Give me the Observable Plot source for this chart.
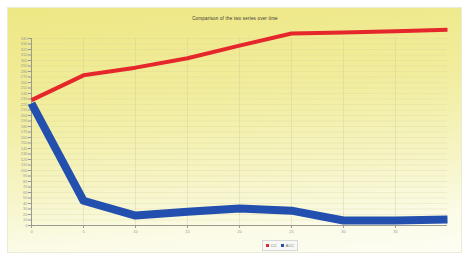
<!DOCTYPE html>
<html>
<head>
<meta charset="utf-8">
<script src="https://cdn.jsdelivr.net/npm/d3@7"></script>
<script src="https://cdn.jsdelivr.net/npm/@observablehq/plot@0.6"></script>
<style>
  html, body { margin: 0; padding: 0; background: #ffffff; }
  #wrap { position: relative; width: 470px; height: 257px; overflow: hidden; }
  #bg { position: absolute; left: 7px; top: 7px; width: 455px; height: 246px;
        background: linear-gradient(175deg, #eee784 0%, #f1ed9c 35%, #f6f4c4 65%, #fbfbe6 85%, #fdfdf4 100%);
        border: 1px solid #ecebd8; box-sizing: border-box; }
  #chart { position: absolute; left: 0; top: 0; }
  #title { position: absolute; left: 0; width: 470px; top: 16px; text-align: center;
           font: 4.5px "Liberation Sans", sans-serif; color: #333; letter-spacing: 0.2px; }
  #legend { position: absolute; left: 262px; top: 240px; height: 9px; padding: 0 3px;
            border: 1px solid #d8d8d8; background: #f8f8f4; display: flex; align-items: center; gap: 4px;
            font: 4px "Liberation Sans", sans-serif; color: #777; }
  .sw { display: inline-block; width: 3px; height: 3px; margin-right: 2px; vertical-align: middle; }
</style>
</head>
<body>
<div id="wrap">
  <div id="bg"></div>
  <div id="chart"></div>
  <div id="title">Comparison of the two series over time</div>
  <div id="legend"></div>
</div>
<script>
const xValues = [0, 5, 10, 15, 20, 25, 30, 35, 40];
const redValues = [228, 273, 287, 304, 327, 349, 351, 353, 356];
const blueValues = [222, 45, 18, 25, 31, 27, 9, 9, 11];
const seriesNames = ["CC", "ACC"];
const seriesColors = ["#e5262b", "#2350ae"];
const xTicks = [0, 5, 10, 15, 20, 25, 30, 35];
const yTicks = [0, 10, 20, 30, 40, 50, 60, 70, 80, 90, 100, 110, 120, 130, 140, 150, 160, 170,
                180, 190, 200, 210, 220, 230, 240, 250, 260, 270, 280, 290, 300, 310, 320, 330, 340];

const rows = xValues.map((x, i) => ({x, y: redValues[i], s: seriesNames[0]}));
const rowsBlue = xValues.map((x, i) => ({x, y: blueValues[i], s: seriesNames[1]}));

const chart = Plot.plot({
  width: 470,
  height: 257,
  marginLeft: 31,
  marginRight: 23,
  marginTop: 38,
  marginBottom: 32,
  style: { background: "transparent", fontFamily: "Liberation Sans", fontSize: "4px", color: "#888" },
  x: { domain: [0, 40], label: null },
  y: { domain: [0, 340], label: null },
  marks: [
    Plot.gridX(xTicks, { stroke: "#c8c89a", strokeOpacity: 0.35 }),
    Plot.gridY(yTicks, { stroke: "#d8d49a", strokeOpacity: 0.3 }),
    Plot.ruleX([0], { y1: 0, y2: 340, stroke: "#9a9a90", strokeWidth: 1 }),
    Plot.ruleY([0], { x1: 0, x2: 40, stroke: "#9a9a90", strokeWidth: 1 }),
    Plot.axisX(xTicks, { tickSize: 3, tickPadding: 2, stroke: "#999", fill: "#999", label: null }),
    Plot.axisY(yTicks, { tickSize: 3, tickPadding: 1, stroke: "#999", fill: "#999", label: null }),
    Plot.line(rows, { x: "x", y: "y", stroke: seriesColors[0], strokeWidth: 4, strokeLinejoin: "round", strokeLinecap: "butt" }),
    Plot.line(rowsBlue, { x: "x", y: "y", stroke: seriesColors[1], strokeWidth: 8, strokeLinejoin: "round", strokeLinecap: "butt" })
  ]
});
document.getElementById("chart").appendChild(chart);

const legend = document.getElementById("legend");
seriesNames.forEach((n, i) => {
  const item = document.createElement("span");
  const sw = document.createElement("span");
  sw.className = "sw";
  sw.style.background = seriesColors[i];
  item.appendChild(sw);
  item.appendChild(document.createTextNode(n));
  legend.appendChild(item);
});
</script>
</body>
</html>
